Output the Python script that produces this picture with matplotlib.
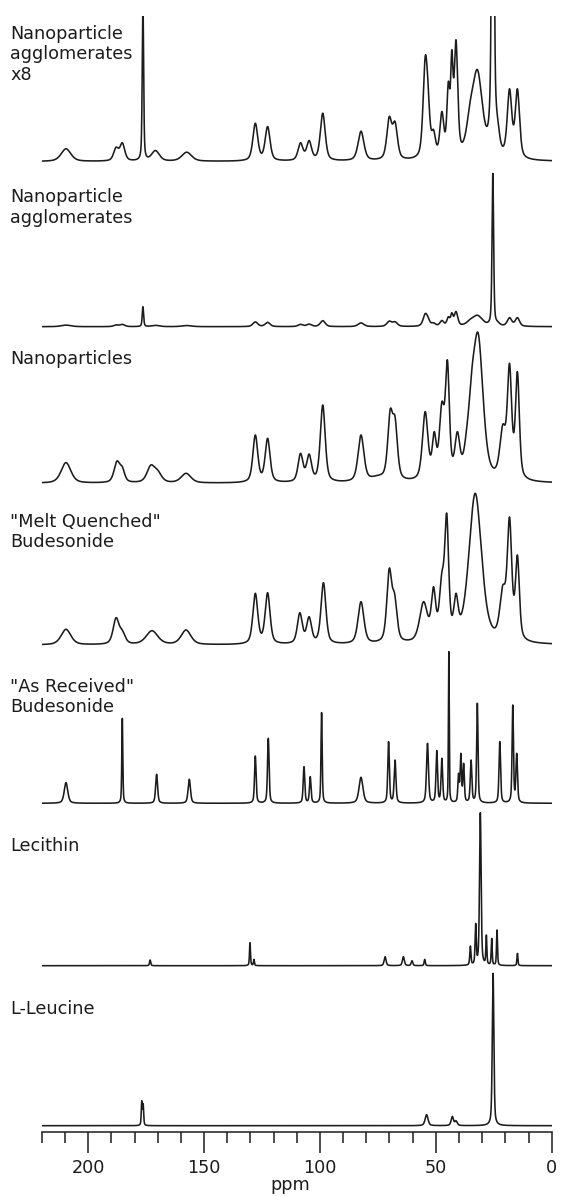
import numpy as np
import matplotlib.pyplot as plt

plt.rcParams['font.family'] = ['DejaVu Sans']

# peak lists: position (ppm), height at the peak (px), width (ppm)
# agglomerates
aggl_ppm = [209.6, 188.0, 185.3, 176.4, 171.0, 157.5, 127.9, 122.6, 108.4, 104.7, 98.8, 82.3,
            70.1, 67.6, 54.6, 53.4, 51.0, 47.4, 44.6, 43.1, 41.3, 35.2, 32.0, 25.4, 23.3, 18.2, 14.8]
aggl_h = [12.7, 14.3, 18.7, 160, 11, 9.3, 38.3, 35, 18.7, 21, 48.3, 30.3,
          45, 40, 105, 80, 32, 50, 80, 111.7, 121.7, 60, 91.7, 1226, 43, 72.7, 72.7]
aggl_w = [5, 2.5, 2.5, 0.7, 4, 5, 2.5, 2.5, 2.5, 2.5, 2.5, 3,
          2.5, 2.5, 2.2, 2, 2, 2, 1.5, 1.2, 1.8, 4, 5, 0.8, 2, 2.3, 2.2]

nano_ppm = [209.6, 187.6, 185.3, 173.0, 170.0, 157.8, 127.9, 122.6, 108.4, 104.7, 98.8, 82.3,
            75.0, 69.7, 67.6, 54.6, 50.7, 47.4, 45.0, 40.7, 36.7, 34.5, 31.7, 21.1, 18.2, 14.8]
nano_h = [20.7, 22.3, 16.7, 18.3, 13.3, 10, 48.3, 45, 30, 29.3, 78.3, 48.3,
          8, 74, 66.7, 71.7, 51.7, 81.6, 123.3, 51.7, 55, 113, 150, 59, 120, 111.7]
nano_w = [5, 3, 2.5, 4, 4, 5, 2.5, 2.5, 2.5, 2.5, 2.5, 3,
          8, 2.5, 2.5, 2.8, 2, 2.5, 2, 2.5, 3, 3.5, 5, 3, 2.2, 2]

melt_ppm = [209.6, 188.0, 185.3, 172.5, 157.8, 127.9, 122.6, 108.7, 104.7, 98.5, 82.3,
            70.1, 67.8, 55.3, 51.0, 47.4, 45.3, 41.3, 33.0, 21.1, 18.2, 14.8]
melt_h = [15.7, 27.3, 15, 14.3, 15, 51.7, 52.3, 32.3, 28.3, 62.3, 43.3,
          76.7, 51.7, 43.3, 58.3, 73, 131.7, 51.7, 151.7, 60, 128, 90]
melt_w = [5, 3, 3, 6, 5, 2.5, 2.5, 2.5, 2.5, 2.5, 3,
          2.5, 2.5, 4, 2.2, 2.5, 2, 2.2, 6.5, 3, 2.3, 2]

recv_ppm = [209.6, 185.3, 170.5, 156.4, 127.9, 122.3, 106.9, 104.2, 99.3, 82.3, 70.4, 67.6,
            53.6, 49.6, 47.4, 44.4, 40.2, 39.2, 38.0, 34.8, 32.1, 22.4, 16.8, 15.1]
recv_h = [20.7, 85, 29, 24, 47.3, 65, 36.7, 26.7, 90.7, 26, 61.7, 43.3,
          60, 52.7, 45, 151.7, 30, 50, 40, 43.3, 100, 61.7, 98.3, 50]
recv_w = [1.8, 0.5, 1.0, 1.2, 0.8, 0.8, 0.8, 0.8, 0.6, 2.0, 0.8, 0.9,
          1.0, 0.8, 0.8, 0.4, 0.7, 0.7, 0.7, 0.8, 0.7, 0.8, 0.7, 0.8]

leci_ppm = [173.3, 130.2, 128.5, 71.9, 64.0, 60.3, 54.8, 35.1, 32.8, 30.8, 28.2, 25.9, 23.6, 14.8]
leci_h = [5.7, 23, 6.3, 9, 9, 5, 6.3, 19.7, 42.3, 153, 30.7, 27.3, 35.7, 12.3]
leci_w = [0.6, 0.5, 0.5, 1, 1, 0.8, 0.6, 0.6, 0.6, 0.8, 0.5, 0.5, 0.5, 0.5]

leuc_ppm = [176.9, 176.3, 54.0, 42.9, 41.3, 25.3]
leuc_h = [25, 22, 11, 9.3, 5, 152.4]
leuc_w = [0.5, 0.5, 1.5, 1.2, 1.2, 0.8]

labels = ['Nanoparticle\nagglomerates\nx8', 'Nanoparticle\nagglomerates', 'Nanoparticles',
          '"Melt Quenched"\nBudesonide', '"As Received"\nBudesonide', 'Lecithin', 'L-Leucine']


def shape(x, x0, w):
    # pseudo-voigt, peak value 1
    u = (x - x0) / w
    return 0.5 / (1 + 4 * u ** 2) + 0.5 * np.exp(-4 * np.log(2) * u ** 2)


def spectrum(x, ppm, h, w):
    # amplitudes so that the summed trace passes through the read heights
    ppm, h, w = np.array(ppm), np.array(h, float), np.array(w, float)
    A = shape(ppm[:, None], ppm[None, :], w[None, :])
    keep = np.ones(len(ppm), bool)
    amp = np.zeros(len(ppm))
    for _ in range(20):
        sol = np.linalg.lstsq(A[:, keep], h, rcond=None)[0]
        amp[:] = 0
        amp[keep] = sol
        if (sol >= 0).all():
            break
        keep[np.where(keep)[0][sol < 0]] = False
    return (amp[None, :] * shape(x[:, None], ppm[None, :], w[None, :])).sum(axis=1)


x = np.linspace(220, 0, 9000)
aggl_x8 = spectrum(x, aggl_ppm, aggl_h, aggl_w)
spectra = [aggl_x8, aggl_x8 / 8,
           spectrum(x, nano_ppm, nano_h, nano_w),
           spectrum(x, melt_ppm, melt_h, melt_w),
           spectrum(x, recv_ppm, recv_h, recv_w),
           spectrum(x, leci_ppm, leci_h, leci_w),
           spectrum(x, leuc_ppm, leuc_h, leuc_w)]

# layout, pixels from top of image
W, H = 561, 1197
baselines = [161.5, 326.7, 483.3, 645, 803.3, 965.7, 1125.7]
label_tops = [25, 188.5, 350, 513, 678, 837, 1000.5]
ax_left, ax_right, ax_bot, ax_top = 41.9, 551.7, 1131.7, 15.7

fig = plt.figure(figsize=(W / 100, H / 100), dpi=100)
ax = fig.add_axes([ax_left / W, 1 - ax_bot / H, (ax_right - ax_left) / W, (ax_bot - ax_top) / H])

for base, sp in zip(baselines, spectra):
    ax.plot(x, base - sp, color='#1c1c1c', lw=1.15)

ax.set_xlim(220, 0)
ax.set_ylim(ax_bot, ax_top)
for s in ['top', 'left', 'right']:
    ax.spines[s].set_visible(False)
ax.spines['bottom'].set_linewidth(1.1)
ax.spines['bottom'].set_color('#1c1c1c')
ax.set_yticks([])
ax.set_xticks([200, 150, 100, 50, 0])
ax.set_xticklabels(['200', '150', '100', '50', '0'])
ax.set_xticks(np.arange(0, 230, 10), minor=True)
ax.tick_params(axis='x', which='major', length=15, width=1.1, pad=4.5,
               labelsize=12.7, colors='#1c1c1c')
ax.tick_params(axis='x', which='minor', length=8.2, width=1.1, colors='#1c1c1c')
ax.set_xlabel('ppm', fontsize=12.7, color='#1c1c1c')
ax.xaxis.set_label_coords(0.4877, -0.040)

for lab, top in zip(labels, label_tops):
    fig.text(10 / W, 1 - top / H, lab, fontsize=12.7, va='top', ha='left',
             linespacing=1.17, color='#1c1c1c')

fig.savefig('out.png', dpi=100)
